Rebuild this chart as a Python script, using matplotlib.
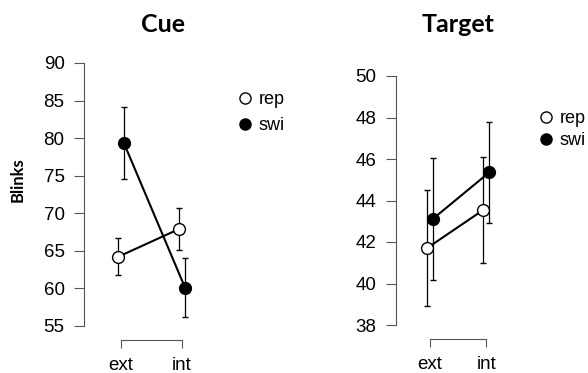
import matplotlib
matplotlib.use("Agg")
import matplotlib.pyplot as plt
from matplotlib.lines import Line2D

# data
conditions = ["ext", "int"]

cue_rep = [64.2, 67.9]
cue_rep_err = [2.45, 2.85]
cue_swi = [79.3, 60.1]
cue_swi_err = [4.8, 3.9]

target_rep = [41.7, 43.55]
target_rep_err = [2.8, 2.55]
target_swi = [43.1, 45.35]
target_swi_err = [2.95, 2.45]

cue_ticks = [55, 60, 65, 70, 75, 80, 85, 90]
target_ticks = [38, 40, 42, 44, 46, 48, 50]

W, H = 588, 373
fig = plt.figure(figsize=(W / 100, H / 100), dpi=100)

tick_font = "Liberation Sans"
title_font = "Lato"


def px_axes(left, top, right, bottom):
    return fig.add_axes([left / W, 1 - bottom / H, (right - left) / W, (bottom - top) / H])


def panel(ax, rep, rep_err, swi, swi_err, ticks, title, xlim, title_x):
    x = [1, 2]
    d = 0.05
    xr = [v - d for v in x]
    xs = [v + d for v in x]
    ax.errorbar(xs, swi, yerr=swi_err, color="black", lw=1.5, elinewidth=0.9,
                capsize=2.2, capthick=0.9, marker="o", ms=8.5, mfc="black",
                mec="black", mew=1, clip_on=False, zorder=3)
    ax.errorbar(xr, rep, yerr=rep_err, color="black", lw=1.5, elinewidth=0.9,
                capsize=2.2, capthick=0.9, marker="o", ms=8.5, mfc="white",
                mec="black", mew=1, clip_on=False, zorder=4)
    for line in ax.lines:
        line.set_clip_on(False)
    for c in ax.collections:
        c.set_clip_on(False)
    ax.set_xlim(*xlim)
    ax.set_ylim(ticks[0], ticks[-1])
    ax.set_yticks(ticks)
    ax.set_xticks(x)
    ax.set_xticklabels(conditions)
    for s in ["top", "right"]:
        ax.spines[s].set_visible(False)
    ax.spines["left"].set_color("#555555")
    ax.spines["left"].set_linewidth(0.8)
    ax.spines["bottom"].set_color("#555555")
    ax.spines["bottom"].set_linewidth(0.8)
    ax.spines["bottom"].set_bounds(1, 2)
    ax.spines["bottom"].set_position(("outward", 10))
    ax.tick_params(axis="both", direction="out", length=7.5, width=0.8,
                   color="#555555", labelsize=13.5, pad=6.5)
    ax.tick_params(axis="x", length=6, pad=6)
    for lab in ax.get_xticklabels() + ax.get_yticklabels():
        lab.set_fontfamily(tick_font)
    fig.text(title_x / W, 1 - 25 / H, title, family=title_font, weight="bold",
             fontsize=18, ha="center", va="center")


ax1 = px_axes(84, 63, 230, 326)
panel(ax1, cue_rep, cue_rep_err, cue_swi, cue_swi_err, cue_ticks, "Cue",
      (1 - 37 / 61, 1 + 109 / 61), 163)
ax1.set_ylabel("Blinks", family=title_font, weight="bold", fontsize=12)
ax1.yaxis.set_label_coords((26 - 84) / 146, (326 - 180) / 263)

ax2 = px_axes(396, 76, 535, 325)
panel(ax2, target_rep, target_rep_err, target_swi, target_swi_err, target_ticks,
      "Target", (1 - 33.7 / 56.6, 1 + 105.3 / 56.6), 458)

handles = [
    Line2D([], [], ls="none", marker="o", ms=8, mfc="white", mec="black", mew=1),
    Line2D([], [], ls="none", marker="o", ms=8, mfc="black", mec="black", mew=1),
]
leg_labels = ["rep", "swi"]
for ax, (lx, ly), sp in [(ax1, (237, 91), 0.5), (ax2, (538, 110), 0.3)]:
    leg = ax.legend(handles, leg_labels, loc="upper left",
                    bbox_to_anchor=(lx / W, 1 - ly / H), bbox_transform=fig.transFigure,
                    frameon=False, borderpad=0, borderaxespad=0, handlelength=0.9,
                    handletextpad=0.3, labelspacing=sp,
                    prop={"family": tick_font, "size": 13})

fig.savefig("out.png", dpi=100)
